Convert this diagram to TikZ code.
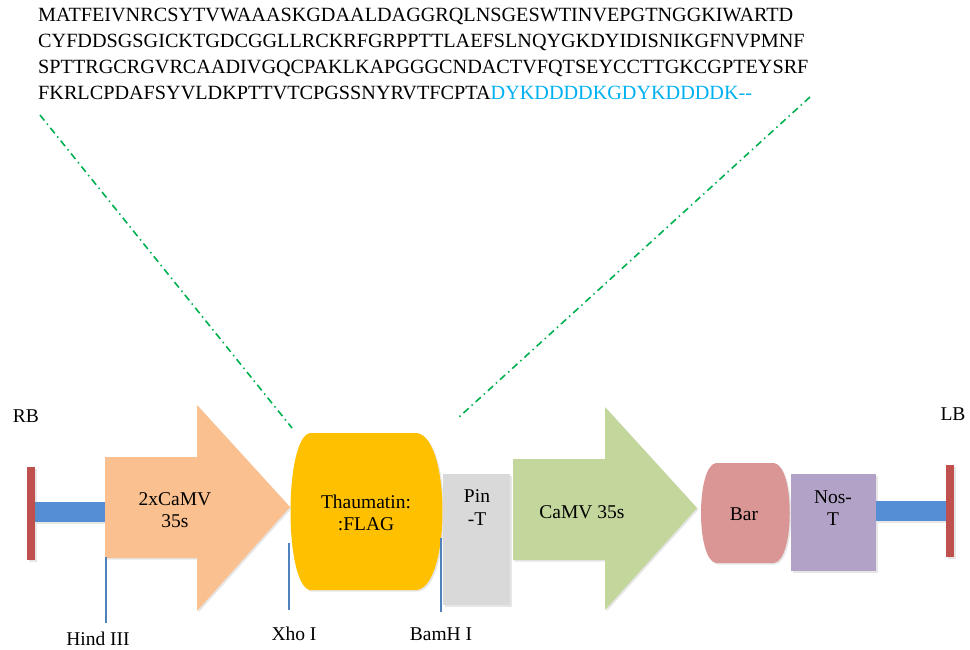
\documentclass[tikz,border=0pt]{standalone}
\usepackage{fontspec}
\setmainfont{Liberation Serif}
\usetikzlibrary{shadows}
\definecolor{orangeA}{HTML}{FAC090}
\definecolor{yellowA}{HTML}{FFC000}
\definecolor{greyA}{HTML}{D9D9D9}
\definecolor{greenA}{HTML}{C3D69B}
\definecolor{pinkA}{HTML}{D99694}
\definecolor{purpleA}{HTML}{B3A2C7}
\definecolor{blueA}{HTML}{558ED5}
\definecolor{redA}{HTML}{C0504D}
\definecolor{siteA}{HTML}{4F81BD}
\definecolor{flagA}{HTML}{00B0F0}
\definecolor{dashA}{HTML}{00B050}
\begin{document}
\begin{tikzpicture}[x=1pt,y=-1pt,
  seqtext/.style={anchor=base west,inner sep=0pt,font=\fontsize{20.2}{26}\selectfont},
  lbl/.style={anchor=base,inner sep=0pt,font=\fontsize{19.5}{22}\selectfont},
  part/.style={draw=none,drop shadow={opacity=0.2,shadow xshift=1.5pt,shadow yshift=-1.5pt}},
  siteline/.style={draw=siteA,line width=1.2pt},
  zoomline/.style={draw=dashA,line width=1.6pt,dash pattern=on 7pt off 4pt on 1.5pt off 4pt}]
\useasboundingbox (0,0) rectangle (970,650);
% sequence
\node[seqtext] (seq1) at (38,22) {MATFEIVNRCSYTVWAAASKGDAALDAGGRQLNSGESWTINVEPGTNGGKIWARTD};
\node[seqtext] (seq2) at (38,48) {CYFDDSGSGICKTGDCGGLLRCKRFGRPPTTLAEFSLNQYGKDYIDISNIKGFNVPMNF};
\node[seqtext] (seq3) at (38,74) {SPTTRGCRGVRCAADIVGQCPAKLKAPGGGCNDACTVFQTSEYCCTTGKCGPTEYSRF};
\node[seqtext] (seq4) at (38,100) {FKRLCPDAFSYVLDKPTTVTCPGSSNYRVTFCPTA\textcolor{flagA}{DYKDDDDKGDYKDDDDK{-}{-}}};
% zoom lines
\coordinate (zl1) at (40,115);
\coordinate (zl2) at (292,428);
\coordinate (zr1) at (810,97);
\coordinate (zr2) at (458,418);
\draw[zoomline] (zl1) -- (zl2);
\draw[zoomline] (zr1) -- (zr2);
% left border
\fill[part,fill=blueA] (35,502) rectangle (106,522);
\fill[part,fill=redA] (27,467) rectangle (35,560);
% 2xCaMV arrow
\fill[part,fill=orangeA] (105,457) -- (197,457) -- (197,405) -- (290,507) -- (197,611) -- (197,558) -- (105,558) -- cycle;
% Thaumatin
\fill[part,fill=yellowA] (310,433) -- (417,433) .. controls (451,438) and (451,585) .. (417,590) -- (310,590) .. controls (284,585) and (284,438) .. (310,433) -- cycle;
% Pin-T
\fill[part,fill=greyA] (443,474) rectangle (510,605);
% CaMV 35s arrow
\fill[part,fill=greenA] (513,459) -- (605,459) -- (605,407) -- (697,508) -- (605,610) -- (605,560) -- (513,560) -- cycle;
% Bar
\fill[part,fill=pinkA] (716,463) -- (774,463) .. controls (795,466) and (795,560) .. (774,563) -- (716,563) .. controls (696,560) and (696,466) .. (716,463) -- cycle;
% Nos-T
\fill[part,fill=purpleA] (791,474) rectangle (876,571);
% right border
\fill[part,fill=blueA] (876,501) rectangle (946,521);
\fill[part,fill=redA] (946,465) rectangle (954,557);
% labels
\node[lbl] (rb) at (26,422) {RB};
\node[lbl] (lb) at (953,420) {LB};
\node[lbl] (p1a) at (175,505) {2xCaMV};
\node[lbl] (p1b) at (175,527) {35s};
\node[lbl] (thA) at (366,508) {Thaumatin:};
\node[lbl] (thB) at (366,530) {:FLAG};
\node[lbl] (pinA) at (477,502) {Pin};
\node[lbl] (pinB) at (477,525) {-T};
\node[lbl] (camv) at (582,518) {CaMV 35s};
\node[lbl] (bar) at (744,520) {Bar};
\node[lbl] (nosA) at (833,503) {Nos-};
\node[lbl] (nosB) at (833,525) {T};
% sites
\node[lbl] (hind) at (98,645) {Hind III};
\node[lbl] (xho) at (294,640) {Xho I};
\node[lbl] (bam) at (441,640) {BamH I};
\coordinate (hindtop) at (106,557);
\coordinate (hindbot) at (106,623);
\coordinate (xhotop) at (289,543);
\coordinate (xhobot) at (289,610);
\coordinate (bamtop) at (441,538);
\coordinate (bambot) at (441,612);
\draw[siteline] (hindtop) -- (hindbot);
\draw[siteline] (xhotop) -- (xhobot);
\draw[siteline] (bamtop) -- (bambot);
\end{tikzpicture}
\end{document}
